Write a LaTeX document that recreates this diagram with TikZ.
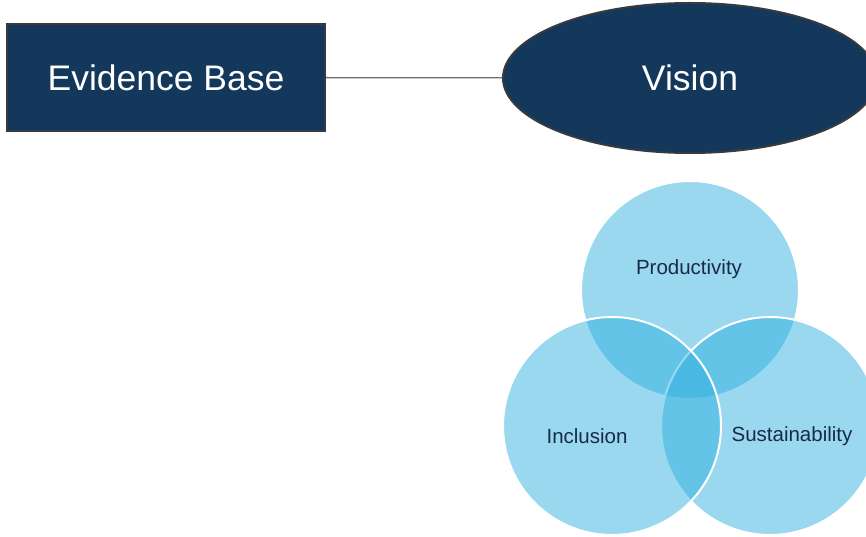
\documentclass[tikz,border=0pt]{standalone}
\usepackage{fontspec}
\setmainfont{Liberation Sans}
\usetikzlibrary{positioning,shapes.geometric}
\definecolor{VisNavy}{RGB}{19,56,91}
\definecolor{VisEdge}{RGB}{55,58,62}
\definecolor{VisLine}{RGB}{110,110,110}
\definecolor{VisText}{RGB}{24,42,74}
\definecolor{VennBlue}{RGB}{43,174,224}
\tikzset{
  vis/box/.style={
    draw=VisEdge,
    line width=1.5pt,
    fill=VisNavy,
    text=white,
    minimum width=318pt,
    minimum height=107pt,
    font=\fontsize{35.5}{40}\selectfont
  },
  vis/oval/.style={
    ellipse,
    draw=VisEdge,
    line width=2pt,
    fill=VisNavy,
    text=white,
    minimum width=374pt,
    minimum height=150pt,
    font=\fontsize{35.5}{40}\selectfont
  },
  vis/link/.style={draw=VisLine, line width=1.3pt},
  vis/venn/.style={
    circle,
    draw=white,
    line width=2pt,
    fill=VennBlue,
    fill opacity=0.48,
    minimum size=218pt
  },
  vis/label/.style={text=VisText, font=\fontsize{20.5}{24}\selectfont}
}

\begin{document}
\begin{tikzpicture}[x=1pt,y=1pt]
  \useasboundingbox (0,0) rectangle (866,536);
  \clip (0,0) rectangle (866,536);
  % top row
  \node[vis/box] (evidence) at (166,458.5) {Evidence Base};
  \node[vis/oval] (vision) at (690,458) {Vision};
  \draw[vis/link] (evidence) -- (vision);
  % three overlapping circles
  \node[vis/venn] (prod) at (690,246) {};
  \node[vis/venn] (sust) at (770,110) {};
  \node[vis/venn] (incl) at (612,110) {};
  \node[vis/label] at (689,267) {Productivity};
  \node[vis/label] at (587,100) {Inclusion};
  \node[vis/label] at (792,100) {Sustainability};
\end{tikzpicture}
\end{document}
